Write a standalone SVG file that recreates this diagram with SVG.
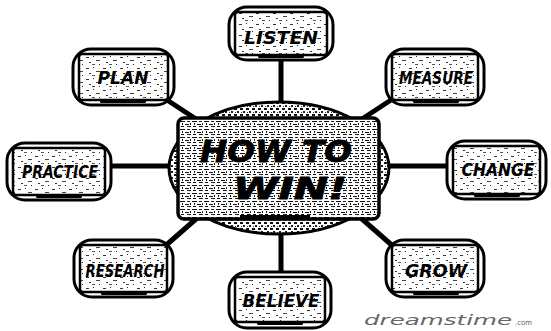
<svg xmlns="http://www.w3.org/2000/svg" width="551" height="331" viewBox="0 0 551 331">
<defs>
<pattern id="spk" width="17" height="11" patternUnits="userSpaceOnUse">
<rect width="17" height="11" fill="#fff"/>
<rect x="1" y="2" width="3" height="1" fill="#333"/>
<rect x="8" y="1" width="1" height="1" fill="#222"/>
<rect x="11" y="5" width="4" height="1" fill="#444"/>
<rect x="4" y="7" width="2" height="1" fill="#333"/>
<rect x="14" y="9" width="1" height="1" fill="#222"/>
<rect x="7" y="9" width="3" height="1" fill="#555"/>
</pattern>
<pattern id="dense" width="12" height="8" patternUnits="userSpaceOnUse">
<rect width="12" height="8" fill="#fff"/>
<rect x="0" y="1" width="5" height="1" fill="#111"/>
<rect x="7" y="1" width="3" height="1" fill="#222"/>
<rect x="2" y="3" width="1" height="2" fill="#111"/>
<rect x="5" y="4" width="4" height="1" fill="#111"/>
<rect x="10" y="3" width="1" height="2" fill="#222"/>
<rect x="1" y="6" width="3" height="1" fill="#111"/>
<rect x="7" y="6" width="4" height="1" fill="#222"/>
</pattern>
<pattern id="ring" width="6" height="6" patternUnits="userSpaceOnUse">
<rect width="6" height="6" fill="#fff"/>
<rect x="0" y="0" width="3" height="2" fill="#111"/>
<rect x="3" y="3" width="2" height="2" fill="#222"/>
<rect x="1" y="4" width="1" height="1" fill="#333"/>
</pattern>
</defs>
<style>
.bk{fill:#fff;stroke:#000;stroke-width:3}
.bx{fill:url(#spk);stroke:#000;stroke-width:2.5}
.tray{fill:#000}
.lbl{font-family:"DejaVu Sans",sans-serif;font-weight:bold;font-style:oblique;font-size:17px;fill:#000;text-anchor:middle}
.big{font-family:"DejaVu Sans",sans-serif;font-weight:bold;font-style:oblique;font-size:30px;fill:#000;stroke:#000;stroke-width:0.8;text-anchor:middle}
.con{stroke:#000;stroke-width:5;stroke-linecap:round;fill:none}
</style>

<g id="connectors">
<line class="con" x1="281" y1="58" x2="281" y2="104"/>
<line class="con" x1="281" y1="230" x2="281" y2="276"/>
<line class="con" x1="106" y1="166" x2="169" y2="166"/>
<line class="con" x1="389" y1="166" x2="453" y2="166"/>
<line class="con" x1="164" y1="98" x2="196" y2="119"/>
<line class="con" x1="394" y1="98" x2="362" y2="119"/>
<line class="con" x1="196" y1="219" x2="164" y2="247"/>
<line class="con" x1="362" y1="219" x2="394" y2="247"/>
</g>

<g id="center">
<ellipse cx="279" cy="168" rx="110" ry="66" fill="url(#ring)" stroke="#000" stroke-width="3"/>
<rect x="178" y="118" width="201" height="101" rx="6" fill="url(#dense)" stroke="#000" stroke-width="3.5"/>
<rect x="240" y="215" width="70" height="4" class="tray"/>
<text class="big" x="276" y="162" textLength="152" lengthAdjust="spacingAndGlyphs">HOW TO</text>
<text class="big" x="290" y="199" textLength="114" lengthAdjust="spacingAndGlyphs">WIN!</text>
</g>

<g id="listen">
<rect class="bk" x="229" y="7" width="104" height="53" rx="18"/>
<rect class="bx" x="235" y="12" width="92" height="43" rx="3"/>
<rect class="tray" x="258" y="55" width="46" height="3" rx="1.5"/>
<text class="lbl" x="281" y="44" textLength="74" lengthAdjust="spacingAndGlyphs">LISTEN</text>
</g>

<g id="plan">
<rect class="bk" x="73" y="49" width="101" height="56" rx="18"/>
<rect class="bx" x="79" y="54" width="89" height="46" rx="3"/>
<rect class="tray" x="100" y="100" width="46" height="3" rx="1.5"/>
<text class="lbl" x="123" y="84" textLength="51" lengthAdjust="spacingAndGlyphs">PLAN</text>
</g>

<g id="measure">
<rect class="bk" x="386" y="49" width="98" height="56" rx="18"/>
<rect class="bx" x="392" y="54" width="86" height="46" rx="3"/>
<rect class="tray" x="413" y="100" width="46" height="3" rx="1.5"/>
<text class="lbl" x="436" y="84" textLength="74" lengthAdjust="spacingAndGlyphs">MEASURE</text>
</g>

<g id="practice">
<rect class="bk" x="7" y="143" width="104" height="57" rx="18"/>
<rect class="bx" x="13" y="148" width="92" height="47" rx="3"/>
<rect class="tray" x="36" y="195" width="46" height="3" rx="1.5"/>
<text class="lbl" x="60" y="178" textLength="76" lengthAdjust="spacingAndGlyphs">PRACTICE</text>
</g>

<g id="change">
<rect class="bk" x="447" y="141" width="99" height="58" rx="18"/>
<rect class="bx" x="453" y="146" width="87" height="48" rx="3"/>
<rect class="tray" x="474" y="194" width="46" height="3" rx="1.5"/>
<text class="lbl" x="498" y="176" textLength="73" lengthAdjust="spacingAndGlyphs">CHANGE</text>
</g>

<g id="research">
<rect class="bk" x="74" y="240" width="99" height="57" rx="18"/>
<rect class="bx" x="80" y="245" width="87" height="47" rx="3"/>
<rect class="tray" x="101" y="292" width="46" height="3" rx="1.5"/>
<text class="lbl" x="125" y="277" textLength="79" lengthAdjust="spacingAndGlyphs">RESEARCH</text>
</g>

<g id="grow">
<rect class="bk" x="386" y="240" width="98" height="57" rx="18"/>
<rect class="bx" x="392" y="245" width="86" height="47" rx="3"/>
<rect class="tray" x="413" y="292" width="46" height="3" rx="1.5"/>
<text class="lbl" x="436" y="277" textLength="62" lengthAdjust="spacingAndGlyphs">GROW</text>
</g>

<g id="believe">
<rect class="bk" x="229" y="272" width="102" height="56" rx="18"/>
<rect class="bx" x="235" y="277" width="90" height="45" rx="3"/>
<rect class="tray" x="257" y="322" width="46" height="3" rx="1.5"/>
<text class="lbl" x="281" y="307" textLength="77" lengthAdjust="spacingAndGlyphs">BELIEVE</text>
</g>

<g id="watermark">
<text x="364" y="325" font-family="DejaVu Sans, sans-serif" font-style="oblique" font-size="14" fill="#666" textLength="148" lengthAdjust="spacingAndGlyphs">dreamstime</text>
<text x="515" y="325" font-family="DejaVu Sans, sans-serif" font-size="7" fill="#666">.com</text>
</g>
</svg>
